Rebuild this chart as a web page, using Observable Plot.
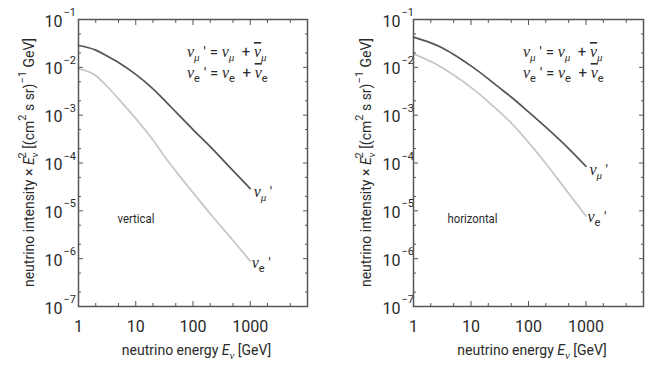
<!DOCTYPE html>
<html><head><meta charset="utf-8">
<script src="https://cdn.jsdelivr.net/npm/d3@7"></script>
<script src="https://cdn.jsdelivr.net/npm/@observablehq/plot@0.6"></script>
<style>
body{margin:0;background:#fff;}
#wrap{position:relative;width:647px;height:372px;overflow:hidden;}
#wrap svg{position:absolute;top:0;overflow:visible;}
</style></head><body><div id="wrap"></div>
<script>
// ---- data ----
const energy = [1, 2, 3, 5, 10, 20, 30, 50, 100, 200, 500, 1000]; // GeV
const verticalMu   = [0.0286, 0.0229, 0.0178, 0.0126, 0.0071, 0.00355, 0.00219, 0.00117, 5.0e-4, 2.19e-4, 6.9e-5, 2.9e-5];
const verticalE    = [0.0093, 0.00676, 0.00427, 0.00219, 8.5e-4, 3.02e-4, 1.51e-4, 6.76e-5, 2.4e-5, 8.7e-6, 2.4e-6, 8.9e-7];
const horizontalMu = [0.0427, 0.0324, 0.0263, 0.0186, 0.0107, 0.00575, 0.00389, 0.0024, 0.00117, 5.6e-4, 2.0e-4, 8.5e-5];
const horizontalE  = [0.0191, 0.0132, 0.0102, 0.0069, 0.0038, 0.0019, 0.00123, 6.9e-4, 2.7e-4, 9.8e-5, 2.3e-5, 7.8e-6];
const xTickLabels = [1, 10, 100, 1000];
const xMajorTicks = [1, 10, 100, 1000, 10000];
const xMinorTicks = [2, 5, 20, 50, 200, 500, 2000, 5000];
const yMajorTicks = [1e-7, 1e-6, 1e-5, 1e-4, 1e-3, 1e-2, 1e-1];
const yExponents  = ["−7", "−6", "−5", "−4", "−3", "−2", "−1"];
const yMinorTicks = yMajorTicks.slice(0, -1).flatMap(d => [2 * d, 5 * d]);
const panelNames = ["vertical", "horizontal"];

const SANS = 'Roboto,"Liberation Sans",sans-serif';
const SERIF = '"Liberation Serif","DejaVu Serif",serif';
const DARK = "#555", LIGHT = "#c6c6c6", TEXT = "#2a2a2a";

function rich(sel, x, y, parts, attrs = {}) {
  const t = sel.append("text").attr("x", x).attr("y", y).attr("fill", TEXT).attr("text-anchor", "start");
  for (const [k, v] of Object.entries(attrs)) t.attr(k, v);
  let cur = 0;
  for (const p of parts) {
    const off = p.off || 0;
    const ts = t.append("tspan").text(p.t);
    if (off !== cur) ts.attr("dy", off - cur);
    if (p.dx) ts.attr("dx", p.dx);
    if (p.bar) ts.attr("text-decoration", "overline");
    cur = off;
    ts.attr("font-family", p.f === "s" ? SERIF : SANS)
      .attr("font-style", p.i ? "italic" : "normal")
      .attr("font-size", p.size || 16);
  }
  return t;
}

const nu = (sub, subSerif, bar) => [
  {t: "ν", f: "s", i: 1, size: 16, bar},
  {t: sub, f: subSerif ? "s" : "", i: subSerif ? 1 : 0, size: 11, off: 4}
];

function panel(opts) {
  const {left, width, marginLeft, marginRight, mu, e, name, padY, yLabelX} = opts;
  const muData = energy.map((E, i) => ({E, v: mu[i]}));
  const eData = energy.map((E, i) => ({E, v: e[i]}));
  const plot = Plot.plot({
    width, height: 372, marginLeft, marginRight, marginTop: 19, marginBottom: 66,
    style: {fontFamily: SANS, fontSize: "16px", color: TEXT, background: "transparent", overflow: "visible"},
    x: {type: "log", domain: [1, 1e4]},
    y: {type: "log", domain: [1e-7, 1e-1]},
    marks: [
      Plot.line(eData, {x: "E", y: "v", stroke: LIGHT, strokeWidth: 1.7, curve: "monotone-x"}),
      Plot.line(muData, {x: "E", y: "v", stroke: DARK, strokeWidth: 1.7, curve: "monotone-x"}),
      Plot.axisX({anchor: "bottom", ticks: xTickLabels, tickSize: 0, tickPadding: 14, tickFormat: d => String(d), label: null}),
      Plot.axisX({anchor: "bottom", ticks: xMajorTicks, tickSize: -5, tickFormat: () => "", label: null, stroke: DARK}),
      Plot.axisX({anchor: "bottom", ticks: xMinorTicks, tickSize: -3, tickFormat: () => "", label: null, stroke: DARK}),
      Plot.axisX({anchor: "top", ticks: xMajorTicks, tickSize: -5, tickFormat: () => "", label: null, stroke: DARK}),
      Plot.axisX({anchor: "top", ticks: xMinorTicks, tickSize: -3, tickFormat: () => "", label: null, stroke: DARK}),
      Plot.axisY({anchor: "left", ticks: yMajorTicks, tickSize: 0, tickPadding: padY, tickFormat: () => "10", label: null, dy: 2}),
      Plot.text(yMajorTicks, {y: d => d, frameAnchor: "left", text: (d, i) => yExponents[i], dx: -padY + 1, dy: -7, textAnchor: "start", fontSize: 11}),
      Plot.axisY({anchor: "left", ticks: yMajorTicks, tickSize: -5, tickFormat: () => "", label: null, stroke: DARK}),
      Plot.axisY({anchor: "left", ticks: yMinorTicks, tickSize: -3, tickFormat: () => "", label: null, stroke: DARK}),
      Plot.axisY({anchor: "right", ticks: yMajorTicks, tickSize: -5, tickFormat: () => "", label: null, stroke: DARK}),
      Plot.axisY({anchor: "right", ticks: yMinorTicks, tickSize: -3, tickFormat: () => "", label: null, stroke: DARK}),
      Plot.text([name], {frameAnchor: "top-left", text: d => d, dx: opts.nameDx, dy: 199, textAnchor: "start", lineAnchor: "middle", fontSize: 13}),
      Plot.frame({stroke: DARK, strokeWidth: 1.5})
    ]
  });
  plot.style.left = left + "px";
  const svg = d3.select(plot);
  svg.selectAll("text").filter(function () { return this.textContent === name; })
    .attr("textLength", opts.nameLen).attr("lengthAdjust", "spacingAndGlyphs");
  const sx = plot.scale("x"), sy = plot.scale("y");
  const fr = width - marginRight;
  // formula
  const fx = fr - 120;
  rich(svg, fx, 57, [...nu("μ", true), {t: " ′ = ", size: 15}, ...nu("μ", true), {t: "  + ", size: 15}, ...nu("μ", true, true)]);
  rich(svg, fx, 78, [...nu("e", false), {t: " ′ = ", size: 15}, ...nu("e", false), {t: "  + ", size: 15}, ...nu("e", false, true)]);
  // end labels
  const last = energy.length - 1;
  rich(svg, sx.apply(energy[last]) + 4, sy.apply(mu[last]) + 9, [...nu("μ", true), {t: " ′", size: 14}]);
  rich(svg, sx.apply(energy[last]) + 2, sy.apply(e[last]) + 7, [...nu("e", false), {t: " ′", size: 14}]);
  // axis labels
  const cx = (marginLeft + fr) / 2 + 4;
  rich(svg, cx, 355, [{t: "neutrino energy ", size: 14}, {t: "E", i: 1, size: 14}, {t: "ν", f: "s", i: 1, size: 11, off: 4}, {t: " [GeV]", size: 14}],
    {"text-anchor": "middle"});
  const cy = (19 + 306) / 2;
  rich(svg, 0, 0, [
    {t: "neutrino intensity × ", size: 14}, {t: "E", i: 1, size: 14},
    {t: "ν", f: "s", i: 1, size: 11, off: 4}, {t: "2", size: 11, off: -8, dx: -6},
    {t: " [(cm", size: 14}, {t: "2", size: 11, off: -8}, {t: " s sr)", size: 14},
    {t: "−1", size: 11, off: -8}, {t: " GeV]", size: 14}
  ], {"text-anchor": "middle", transform: `translate(${yLabelX},${cy}) rotate(-90)`});
  document.getElementById("wrap").appendChild(plot);
}

panel({left: 0, width: 323, marginLeft: 78, marginRight: 16, mu: verticalMu, e: verticalE, name: panelNames[0], padY: 16, yLabelX: 34, nameDx: 39, nameLen: 37});
panel({left: 323, width: 324, marginLeft: 90, marginRight: 4, mu: horizontalMu, e: horizontalE, name: panelNames[1], padY: 13, yLabelX: 48, nameDx: 34, nameLen: 50});
</script></body></html>
